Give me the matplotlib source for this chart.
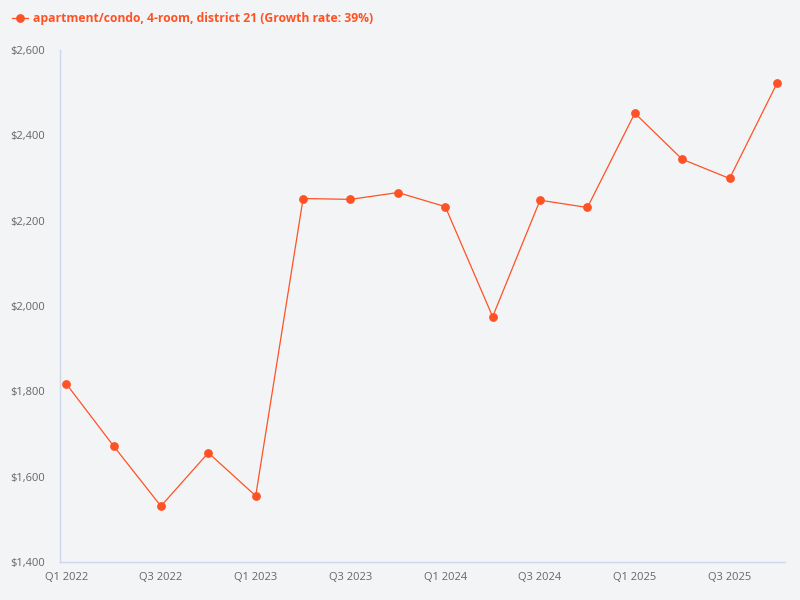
import matplotlib.pyplot as plt
from matplotlib.ticker import FuncFormatter

plt.rcParams['font.family'] = ['Open Sans', 'DejaVu Sans']

# 季度与租金数据
quarters = ['Q1 2022', 'Q2 2022', 'Q3 2022', 'Q4 2022',
            'Q1 2023', 'Q2 2023', 'Q3 2023', 'Q4 2023',
            'Q1 2024', 'Q2 2024', 'Q3 2024', 'Q4 2024',
            'Q1 2025', 'Q2 2025', 'Q3 2025', 'Q4 2025']
prices = [1818, 1672, 1531, 1656, 1555, 2252, 2250, 2266,
          2233, 1975, 2248, 2231, 2452, 2344, 2299, 2522]
series_name = 'apartment/condo, 4-room, district 21 (Growth rate: 39%)'
y_ticks = [1400, 1600, 1800, 2000, 2200, 2400, 2600]

color = '#ff5224'
bg = '#f3f4f6'

fig = plt.figure(figsize=(8, 6), dpi=100, facecolor=bg)
ax = fig.add_axes([0.075, 0.0633, 0.9063, 0.8533])
ax.set_facecolor(bg)

x = list(range(len(quarters)))
line, = ax.plot(x, prices, color=color, linewidth=0.9, marker='o',
                markersize=5.3, label=series_name)

ax.set_xlim(-0.13, len(quarters) - 1 + 0.17)
ax.set_ylim(1400, 2600)
ax.set_yticks(y_ticks)
ax.yaxis.set_major_formatter(FuncFormatter(lambda v, p: f'${v:,.0f}'))
ax.set_xticks(x[::2])
ax.set_xticklabels(quarters[::2])

for s in ['top', 'right']:
    ax.spines[s].set_visible(False)
for s in ['left', 'bottom']:
    ax.spines[s].set_color('#ccd6eb')
    ax.spines[s].set_linewidth(1)
ax.tick_params(length=0, labelsize=8, colors='#666666', pad=7)
ax.tick_params(axis='y', pad=11)

leg = fig.legend(handles=[line], loc='upper left', bbox_to_anchor=(0.0, 1.0),
                 frameon=False, handlelength=1.3, handletextpad=0.4,
                 borderaxespad=0.6, prop={'weight': 'bold', 'size': 8.75})
for t in leg.get_texts():
    t.set_color(color)

fig.savefig('out.png', dpi=100, facecolor=bg)
